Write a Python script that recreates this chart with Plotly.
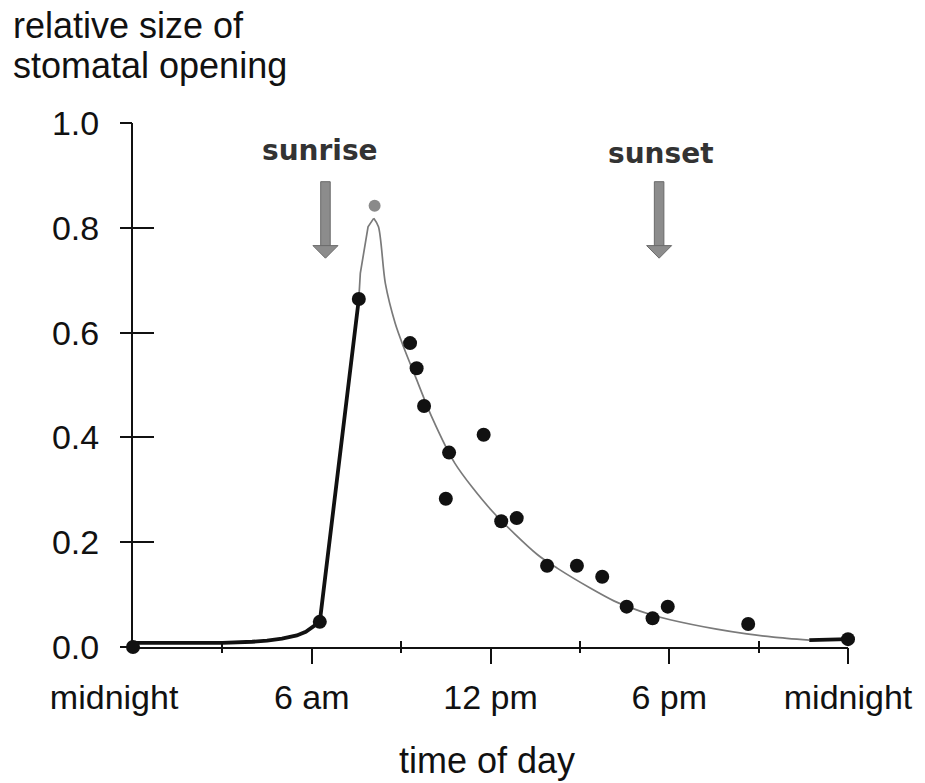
import plotly.graph_objects as go

# ---------------- data ----------------
hour_ticks = [0, 6, 12, 18, 24]
hour_labels = ["midnight\u00a0\u00a0\u00a0\u00a0", "6 am", "12 pm", "6 pm", "midnight"]
minor_hours = [3, 9, 15, 21]
size_ticks = [0.0, 0.2, 0.4, 0.6, 0.8, 1.0]
size_labels = ["0.0", "0.2", "0.4", "0.6", "0.8", "1.0"]

# measured stomatal opening (black dots)
obs_hour = [0.0, 6.27, 7.58, 9.30, 9.52, 9.77, 10.61, 10.50, 11.77, 12.36, 12.88,
            13.90, 14.90, 15.75, 16.57, 17.44, 17.95, 20.65, 24.0]
obs_size = [0.0, 0.048, 0.664, 0.580, 0.532, 0.460, 0.371, 0.283, 0.405, 0.240, 0.246,
            0.155, 0.155, 0.134, 0.077, 0.055, 0.077, 0.044, 0.015]

# peak (grey dot)
peak_hour = [8.11]
peak_size = [0.842]

# night / opening curve (thick black)
night_hour = [0.0, 3.0, 4.0, 4.5, 5.0, 5.5, 5.8, 6.27, 7.58]
night_size = [0.008, 0.008, 0.010, 0.012, 0.016, 0.022, 0.029, 0.048, 0.664]

# rise to peak (thin grey)
rise_hour = [7.58, 7.63, 7.89, 8.08]
rise_size = [0.664, 0.713, 0.802, 0.818]

# decline after peak (thin grey)
decay_hour = [8.08, 8.24, 8.47, 8.80, 9.08, 9.50, 10.02, 10.80, 12.03, 13.58, 14.25,
              15.36, 16.14, 16.56, 17.37, 18.03, 19.59, 20.60, 21.50, 22.70]
decay_size = [0.818, 0.802, 0.694, 0.618, 0.573, 0.513, 0.440, 0.351, 0.261, 0.176, 0.150,
              0.112, 0.088, 0.078, 0.062, 0.052, 0.034, 0.025, 0.019, 0.013]

# late night (thick black)
late_hour = [22.70, 24.0]
late_size = [0.013, 0.015]

# events
event_names = ["sunrise", "sunset"]
event_hours = [6.46, 17.66]

# ---------------- style ----------------
TXT = "#111111"
GREY_LINE = "#7a7a7a"
ARROW = "#8c8c8c"
ARROW_EDGE = "#6a6a6a"
FONT = "Liberation Sans, Arial, sans-serif"

fig = go.Figure()

fig.add_trace(go.Scatter(x=night_hour, y=night_size, mode="lines",
                         line=dict(color="#111111", width=3.8), cliponaxis=False,
                         hoverinfo="skip"))
fig.add_trace(go.Scatter(x=rise_hour, y=rise_size, mode="lines",
                         line=dict(color=GREY_LINE, width=1.7), cliponaxis=False,
                         hoverinfo="skip"))
fig.add_trace(go.Scatter(x=decay_hour, y=decay_size, mode="lines",
                         line=dict(color=GREY_LINE, width=1.7, shape="spline", smoothing=0.8),
                         cliponaxis=False, hoverinfo="skip"))
fig.add_trace(go.Scatter(x=late_hour, y=late_size, mode="lines",
                         line=dict(color="#111111", width=3.8), cliponaxis=False,
                         hoverinfo="skip"))
fig.add_trace(go.Scatter(x=obs_hour, y=obs_size, mode="markers",
                         marker=dict(color="#111111", size=14), cliponaxis=False,
                         hoverinfo="skip"))
fig.add_trace(go.Scatter(x=peak_hour, y=peak_size, mode="markers",
                         marker=dict(color="#8a8a8a", size=12), cliponaxis=False,
                         hoverinfo="skip"))

# invisible traces so that the overlaid tick-only axes are drawn
fig.add_trace(go.Scatter(x=[None], y=[None], xaxis="x2", yaxis="y", mode="markers",
                         hoverinfo="skip"))
fig.add_trace(go.Scatter(x=[None], y=[None], xaxis="x3", yaxis="y", mode="markers",
                         hoverinfo="skip"))
fig.add_trace(go.Scatter(x=[None], y=[None], xaxis="x", yaxis="y2", mode="markers",
                         hoverinfo="skip"))

# event arrows (shaft + head) and labels
label_y = [0.948, 0.941]
label_shift = [-5, 2]
for name, h, ly, sh in zip(event_names, event_hours, label_y, label_shift):
    fig.add_shape(type="rect", xref="x", yref="y",
                  x0=h - 0.16, x1=h + 0.16, y0=0.764, y1=0.888,
                  fillcolor=ARROW, line=dict(color=ARROW_EDGE, width=1), layer="above")
    fig.add_shape(type="path", xref="x", yref="y",
                  path=f"M {h-0.42},0.766 L {h+0.42},0.766 L {h},0.742 Z",
                  fillcolor=ARROW, line=dict(color=ARROW_EDGE, width=1), layer="above")
    fig.add_annotation(x=h, y=ly, xref="x", yref="y", text=name, showarrow=False,
                       xshift=sh, xanchor="center", yanchor="middle",
                       font=dict(family="DejaVu Sans, Verdana, sans-serif", size=28,
                                 color="#333333", weight="bold"))

# y-axis title (two lines, top-left)
fig.add_annotation(xref="paper", yref="paper", x=-0.171, y=1.187, xanchor="left",
                   yanchor="middle", text="relative size of", showarrow=False,
                   font=dict(family=FONT, size=36, color=TXT))
fig.add_annotation(xref="paper", yref="paper", x=-0.171, y=1.110, xanchor="left",
                   yanchor="middle", text="stomatal opening", showarrow=False,
                   font=dict(family=FONT, size=36, color=TXT))
# x-axis title
fig.add_annotation(xref="paper", yref="paper", x=0.495, y=-0.216, xanchor="center",
                   yanchor="middle", text="time of day", showarrow=False,
                   font=dict(family=FONT, size=36, color=TXT))

fig.update_layout(
    width=925, height=783,
    margin=dict(l=133, r=73, t=123, b=136, pad=0),
    paper_bgcolor="white", plot_bgcolor="white",
    showlegend=False, hovermode=False,
    font=dict(family=FONT, color=TXT),
    xaxis=dict(range=[0, 24], showline=True, linecolor="#111111", linewidth=2,
               ticks="", tickmode="array", tickvals=hour_ticks, ticktext=hour_labels,
               tickfont=dict(family=FONT, size=34, color=TXT), ticklabelstandoff=19,
               showgrid=False, zeroline=False, fixedrange=True),
    xaxis2=dict(range=[0, 24], overlaying="x", anchor="y", side="bottom",
                showline=False, ticks="outside", ticklen=16, tickwidth=2,
                tickcolor="#111111", tickmode="array", tickvals=hour_ticks[1:],
                showticklabels=False, showgrid=False, zeroline=False, fixedrange=True,
                minor=dict(ticks="outside", ticklen=5, tickwidth=2, tickcolor="#111111",
                           tickmode="array", tickvals=minor_hours, showgrid=False)),
    xaxis3=dict(range=[0, 24], overlaying="x", anchor="y", side="bottom",
                showline=False, ticks="inside", ticklen=6, tickwidth=2,
                tickcolor="#111111", tickmode="array", tickvals=minor_hours,
                showticklabels=False, showgrid=False, zeroline=False, fixedrange=True),
    # main y axis: labels + inner part of the crossing ticks
    yaxis=dict(range=[0, 1], showline=True, linecolor="#111111", linewidth=2,
               ticks="inside", ticklen=21, tickwidth=2, tickcolor="#111111",
               tickmode="array", tickvals=size_ticks, ticktext=size_labels,
               tickfont=dict(family=FONT, size=34, color=TXT), ticklabelstandoff=25,
               showgrid=False, zeroline=False, fixedrange=True),
    # outer part of the crossing ticks
    yaxis2=dict(range=[0, 1], overlaying="y", anchor="x", side="left",
                showline=False, ticks="outside", ticklen=12, tickwidth=2,
                tickcolor="#111111", tickmode="array", tickvals=size_ticks,
                showticklabels=False, showgrid=False, zeroline=False, fixedrange=True),
)

fig.write_html("out.html", config={"displayModeBar": False})
